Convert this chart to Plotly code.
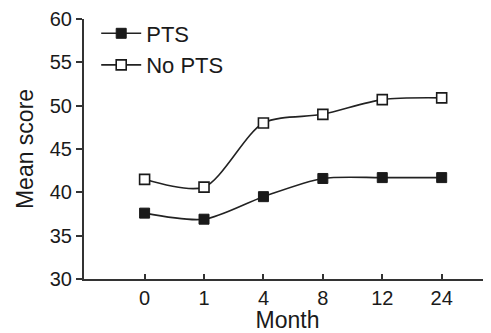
import plotly.graph_objects as go

months = ["0", "1", "4", "8", "12", "24"]
pts = [37.6, 36.9, 39.5, 41.6, 41.7, 41.7]
no_pts = [41.5, 40.6, 48.0, 49.0, 50.7, 50.9]

font_family = "Liberation Sans, Arial, sans-serif"
line_color = "#222222"

fig = go.Figure()
fig.add_trace(go.Scatter(
    x=months, y=pts, name="PTS", mode="lines+markers",
    line=dict(color=line_color, width=1.6, shape="spline", smoothing=0.8),
    marker=dict(symbol="square", size=10, color="#1a1a1a",
                line=dict(color="#1a1a1a", width=1)),
))
fig.add_trace(go.Scatter(
    x=months, y=no_pts, name="No PTS", mode="lines+markers",
    line=dict(color=line_color, width=1.6, shape="spline", smoothing=0.8),
    marker=dict(symbol="square", size=10, color="white",
                line=dict(color="#1a1a1a", width=1.6)),
))

fig.update_layout(
    width=483, height=325,
    margin=dict(l=76, r=0, t=11, b=54),
    paper_bgcolor="white", plot_bgcolor="white",
    font=dict(family=font_family, size=21, color="#1a1a1a"),
    showlegend=True,
    legend=dict(x=0.03, y=1.025, xanchor="left", yanchor="top",
                bgcolor="rgba(0,0,0,0)", font=dict(size=22),
                tracegroupgap=0, itemwidth=40),
    xaxis=dict(
        type="category", range=[-1.02, 5.83], automargin=False,
        showgrid=False, zeroline=False,
        showline=True, linecolor="#333333", linewidth=2,
        ticks="inside", ticklen=5, tickwidth=1.5, tickcolor="#333333",
        title=dict(text="Month", standoff=0, font=dict(size=23)),
        tickfont=dict(size=20),
    ),
    yaxis=dict(
        range=[30, 60], dtick=5, automargin=False,
        showgrid=False, zeroline=False,
        showline=True, linecolor="#333333", linewidth=2,
        ticks="outside", ticklen=6, tickwidth=1.5, tickcolor="#333333",
        title=dict(text="Mean score", standoff=10, font=dict(size=23)),
        tickfont=dict(size=20),
    ),
)

fig.write_html("out.html")
